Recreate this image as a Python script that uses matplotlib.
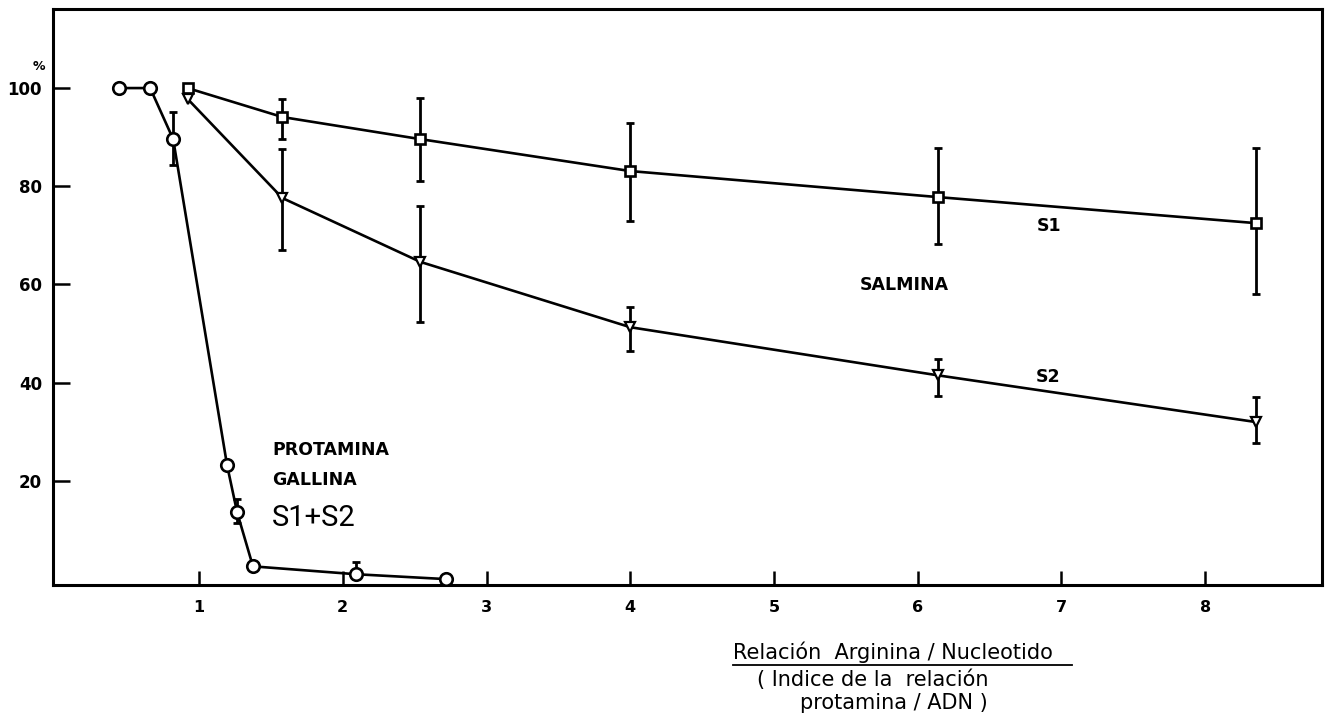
import matplotlib
matplotlib.use("Agg")
import matplotlib.pyplot as plt
from matplotlib.lines import Line2D

# ---- data ----
prot_x = [0.44, 0.66, 0.82, 1.195, 1.265, 1.375, 2.09, 2.72]
prot_y = [100, 100, 89.6, 23.2, 13.6, 2.6, 1.0, 0.0]
prot_err_lo = [0, 0, 5.3, 0, 2.2, 0, 0, 0]
prot_err_hi = [0, 0, 5.5, 0, 2.7, 0, 2.5, 0]

sal_x = [0.92, 1.58, 2.54, 4.0, 6.14, 8.35]
s1_y = [100, 94.1, 89.6, 83.1, 77.8, 72.5]
s1_err_lo = [0, 4.5, 8.5, 10.2, 9.6, 14.5]
s1_err_hi = [0, 3.7, 8.4, 9.8, 10.0, 15.3]

s2_y = [97.8, 77.6, 64.6, 51.3, 41.5, 32.0]
s2_err_lo = [0, 10.6, 12.3, 4.9, 4.2, 4.3]
s2_err_hi = [0, 10.0, 11.4, 4.1, 3.3, 5.1]

xticks = [1, 2, 3, 4, 5, 6, 7, 8]
yticks = [20, 40, 60, 80, 100]
ytick_labels = ["20", "40", "60", "80", "100"]

# ---- figure ----
fig = plt.figure(figsize=(13.35, 7.15), dpi=100)
ax = fig.add_axes([0.0397, 0.1818, 0.9503, 0.8056])
ax.set_xlim(-0.016, 8.81)
ax.set_ylim(-1.2, 116.1)

lw = 1.9
ekw = dict(ecolor="black", elinewidth=2.0, capsize=3.2, capthick=2.0)

def nonzero_idx(lo, hi):
    return [i for i in range(len(lo)) if lo[i] > 0 or hi[i] > 0]

for xs, ys, lo, hi in [(prot_x, prot_y, prot_err_lo, prot_err_hi),
                       (sal_x, s1_y, s1_err_lo, s1_err_hi),
                       (sal_x, s2_y, s2_err_lo, s2_err_hi)]:
    idx = nonzero_idx(lo, hi)
    ax.errorbar([xs[i] for i in idx], [ys[i] for i in idx],
                yerr=[[lo[i] for i in idx], [hi[i] for i in idx]],
                fmt="none", zorder=2, **ekw)

ax.plot(prot_x, prot_y, color="black", lw=lw, marker="o", ms=9,
        mfc="white", mec="black", mew=1.9, zorder=3)
ax.plot(sal_x, s1_y, color="black", lw=lw, marker="s", ms=7.5,
        mfc="white", mec="black", mew=1.9, zorder=3)
ax.plot(sal_x, s2_y, color="black", lw=lw, marker="v", ms=7.5,
        mfc="white", mec="black", mew=1.6, zorder=3)

for s in ax.spines.values():
    s.set_linewidth(2.2)
ax.set_xticks(xticks)
ax.set_xticklabels([str(v) for v in xticks], fontsize=11.5, fontweight="bold")
ax.set_yticks(yticks)
ax.set_yticklabels(ytick_labels, fontsize=12, fontweight="bold")
ax.tick_params(axis="x", direction="in", length=10, width=1.8, pad=11)
ax.tick_params(axis="y", direction="in", length=12, width=1.8, pad=8)

# annotations
fig.text(39 / 1335, 1 - 66 / 715, "%", fontsize=9, fontweight="bold",
         ha="center", va="center")
ax.text(1.51, 26.3, "PROTAMINA", fontsize=12.5, fontweight="bold",
        ha="left", va="center")
ax.text(1.51, 20.2, "GALLINA", fontsize=12.5, fontweight="bold",
        ha="left", va="center")
ax.text(1.51, 12.4, "S1+S2", fontsize=21, ha="left", va="center",
        family=["Roboto", "DejaVu Sans"], fontweight="normal")
ax.text(5.6, 59.9, "SALMINA", fontsize=12.5, fontweight="bold",
        ha="left", va="center")
ax.text(6.915, 72.0, "S1", fontsize=12.5, fontweight="bold",
        ha="center", va="center")
ax.text(6.91, 41.2, "S2", fontsize=12.5, fontweight="bold",
        ha="center", va="center")

fig.text(733 / 1335, 1 - 652 / 715, "Relación  Arginina / Nucleotido",
         fontsize=15, ha="left", va="center")
fig.add_artist(Line2D([733 / 1335, 1072 / 1335],
                      [1 - 665 / 715, 1 - 665 / 715],
                      color="black", lw=1.3))
fig.text(757 / 1335, 1 - 680 / 715, "( Indice de la  relación",
         fontsize=15, ha="left", va="center")
fig.text(800 / 1335, 1 - 703 / 715, "protamina / ADN )",
         fontsize=15, ha="left", va="center")

fig.savefig("out.png", dpi=100, facecolor="white")
